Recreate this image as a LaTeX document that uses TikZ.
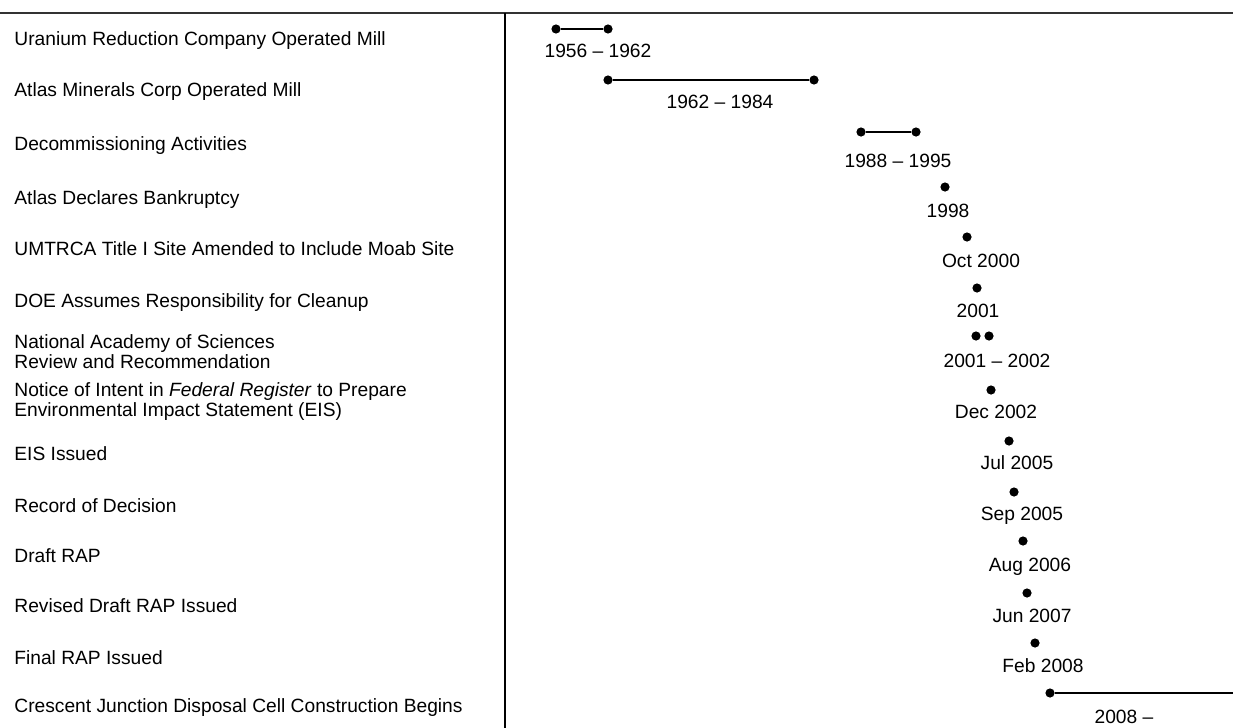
\documentclass[tikz,border=0pt]{standalone}
\usepackage{fontspec}
\setmainfont{Liberation Sans}
\usetikzlibrary{positioning}

\tikzset{
  evt/.style={font=\fontsize{9.6}{10}\selectfont, anchor=base west, align=left, inner sep=0pt},
  yr/.style={font=\fontsize{9.6}{10}\selectfont, anchor=base, inner sep=0pt},
  dot/.style={circle, fill=black, inner sep=0pt, minimum size=4.6pt},
  span/.style={line width=1.2pt}
}

\begin{document}
\begin{tikzpicture}[x=0.5pt, y=-0.5pt]
  \useasboundingbox (0,0) rectangle (1233,728);

  % Frame
  \coordinate (topl) at (0,13);
  \coordinate (topr) at (1233,13);
  \coordinate (divt) at (505,13);
  \coordinate (divb) at (505,728);
  \draw[line width=1.1pt, black!80] (topl) -- (topr);
  \draw[line width=1.1pt] (divt) -- (divb);

  % Events (left column)
  \foreach \y/\txt [count=\i] in {
    46/Uranium Reduction Company Operated Mill,
    97/Atlas Minerals Corp Operated Mill,
    150/Decommissioning Activities,
    204/Atlas Declares Bankruptcy,
    255/UMTRCA Title I Site Amended to Include Moab Site,
    307/DOE Assumes Responsibility for Cleanup,
    368/{National Academy of Sciences\\Review and Recommendation},
    416/{Notice of Intent in \textit{Federal Register} to Prepare\\Environmental Impact Statement (EIS)},
    460/EIS Issued,
    512/Record of Decision,
    562/Draft RAP,
    612/Revised Draft RAP Issued,
    664/Final RAP Issued,
    712/Crescent Junction Disposal Cell Construction Begins} {
    \node[evt] (ev\i) at (14,\y) {\txt};
  }

  % Dots
  \foreach \n/\x/\y in {d1a/556/29, d1b/608/29, d2a/608/80, d2b/814/80,
    d3a/861/132, d3b/916/132, d4/945/187, d5/967/237, d6/977/288,
    d7a/976/336, d7b/989/336, d8/991/390, d9/1009/441, d10/1014/492,
    d11/1023/541, d12/1027/593, d13/1035/643, d14/1050/693} {
    \node[dot] (\n) at (\x,\y) {};
  }
  \coordinate (now) at (1233,693);

  % Spans
  \draw[span] (d1a) -- (d1b);
  \draw[span] (d2a) -- (d2b);
  \draw[span] (d3a) -- (d3b);
  \draw[span] (d14) -- (now);

  % Dates
  \foreach \x/\y/\txt [count=\i] in {
    598/57/1956 -- 1962, 720/108/1962 -- 1984, 898/167/1988 -- 1995,
    948/217/1998, 981/267/Oct 2000, 978/317/2001, 997/367/2001 -- 2002,
    996/418/Dec 2002, 1017/469/Jul 2005, 1022/520/Sep 2005,
    1030/571/Aug 2006, 1032/622/Jun 2007, 1043/672/Feb 2008,
    1124/723/2008 --} {
    \node[yr] (yr\i) at (\x,\y) {\txt};
  }
\end{tikzpicture}
\end{document}
